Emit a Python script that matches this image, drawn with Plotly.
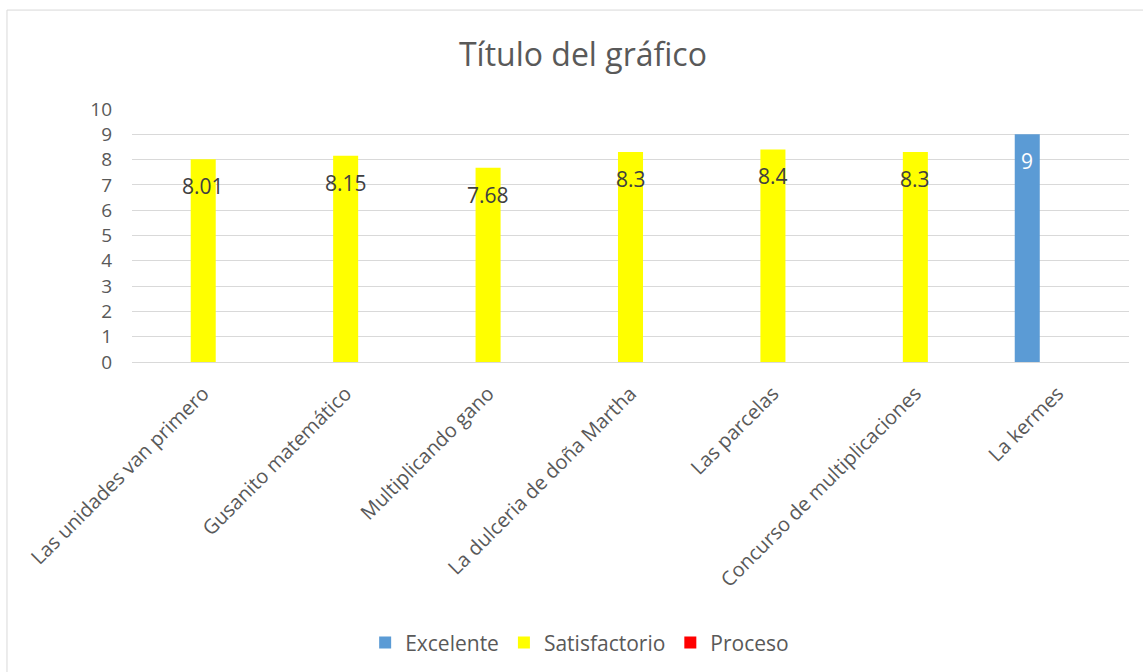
import plotly.graph_objects as go

categories = ["Las unidades van primero", "Gusanito matemático", "Multiplicando gano",
              "La dulceria de doña Martha", "Las parcelas", "Concurso de multiplicaciones",
              "La kermes"]
excelente = [None, None, None, None, None, None, 9]
satisfactorio = [8.01, 8.15, 7.68, 8.3, 8.4, 8.3, None]
proceso = [None, None, None, None, None, None, None]
y_ticks = list(range(0, 11))

FONT = "Open Sans"
GREY = "#595959"
W, H = 1143, 672
ML, MR, MT, MB = 132, 14, 109, 310
BARGAP, GROUPGAP = 0.357, 0.18

series = [("Excelente", excelente, "#5B9BD5", "white"),
          ("Satisfactorio", satisfactorio, "#FFFF00", "#404040"),
          ("Proceso", proceso, "#FF0000", "#404040")]

fig = go.Figure()
for name, vals, col, _ in series:
    fig.add_trace(go.Bar(name=name, x=categories, y=vals, marker=dict(color=col, line=dict(width=0))))

# data labels placed just inside the bar tops, at each bar's group slot
cat_px = (W - ML - MR) / len(categories)
slot_px = cat_px * (1 - BARGAP) / len(series)
for i, (name, vals, col, tcol) in enumerate(series):
    for c, v in zip(categories, vals):
        if v is None:
            continue
        fig.add_annotation(x=c, y=v, text=f"{v:g}", showarrow=False,
                           xshift=(i - (len(series) - 1) / 2) * slot_px, yshift=-27,
                           yanchor="middle", xanchor="center",
                           font=dict(size=21, color=tcol, family=FONT))

fig.update_layout(
    width=W, height=H,
    barmode="group", bargap=BARGAP, bargroupgap=GROUPGAP,
    plot_bgcolor="white", paper_bgcolor="white",
    margin=dict(l=ML, r=MR, t=MT, b=MB, autoexpand=False),
    font=dict(family=FONT, color=GREY, size=19),
    title=dict(text="Título del gráfico", x=0.51, xanchor="center", y=0.918, yanchor="middle",
               font=dict(size=32, color=GREY, family=FONT)),
    showlegend=True,
    legend=dict(orientation="h", x=0.449, xanchor="center", y=-1.11, yanchor="middle",
                itemwidth=30, font=dict(size=21, color=GREY, family=FONT)),
)
fig.update_xaxes(tickangle=-45, showgrid=False, showline=False, ticks="", automargin=False,
                 ticklabelstandoff=15, tickfont=dict(size=20, color=GREY, family=FONT))
fig.update_yaxes(range=[0, 10], tickvals=y_ticks, showgrid=True, gridcolor="#D9D9D9",
                 gridwidth=1, zeroline=True, zerolinecolor="#D9D9D9", zerolinewidth=1,
                 showline=False, ticks="", automargin=False, ticklabelstandoff=19,
                 tickfont=dict(size=19, color=GREY, family=FONT))

fig.add_shape(type="rect", xref="paper", yref="paper", x0=-0.1254, x1=1.05, y0=-1.3, y1=1.391,
              line=dict(color="#D9D9D9", width=1), fillcolor="rgba(0,0,0,0)", layer="below")

fig.write_html("out.html", config={"displayModeBar": False},
               post_script="document.body.style.margin='0';")
